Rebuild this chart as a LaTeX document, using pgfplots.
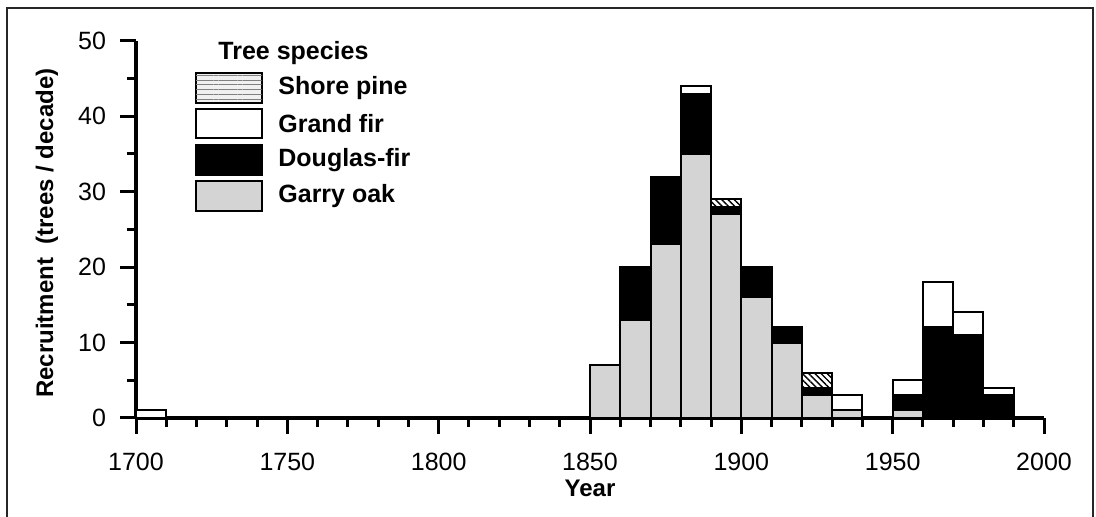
\documentclass[border=0pt]{standalone}
\usepackage{pgfplots}
\pgfplotsset{compat=1.18}
\usepackage{pgfplotstable}
\usepackage{fontspec}
\setmainfont{Liberation Sans}
\usetikzlibrary{patterns.meta}
\pgfplotstableread{
dec garry doug grand shore
1705 0 0 1 0
1855 7 0 0 0
1865 13 7 0 0
1875 23 9 0 0
1885 35 8 1 0
1895 27 1 0 1
1905 16 4 0 0
1915 10 2 0 0
1925 3 1 0 2
1935 1 0 2 0
1955 1 2 2 0
1965 0 12 6 0
1975 0 11 3 0
1985 0 3 1 0
}\datatab
\definecolor{oak}{gray}{0.83}
\begin{document}
\begin{tikzpicture}[x=0.5pt,y=0.5pt]
\useasboundingbox (0,0) rectangle (1096,517);
\draw[line width=1pt, black!85] (7,-20) -- (7,509) -- (1093,509) -- (1093,-20);
\begin{axis}[
  at={(68pt,49.5pt)}, anchor=south west,
  scale only axis, width=454pt, height=188.65pt,
  xmin=1700, xmax=2000, ymin=0, ymax=50,
  axis x line=bottom, axis y line=left,
  axis line style={-, line width=1.6pt},
  xtick={1700,1750,...,2000}, minor x tick num=4,
  ytick={0,10,...,50}, minor y tick num=1,
  tick align=outside,
  major tick length=8pt, minor tick length=4.5pt,
  every tick/.style={black, line width=1.5pt},
  /pgf/number format/assume math mode=true,
  /pgf/number format/1000 sep={},
  ticklabel style={font=\fontsize{12.5}{14}\selectfont},
  xticklabel style={yshift=-6pt},
  yticklabel style={xshift=-3.5pt},
  xlabel={\textbf{Year}},
  ylabel={\textbf{Recruitment\ \ (trees / decade)}},
  label style={font=\fontsize{12}{14}\selectfont},
  xlabel style={at={(axis description cs:0.5,-0.186)}, anchor=center},
  ylabel style={at={(axis description cs:-0.098,0.49)}, anchor=center},
  ybar stacked, bar width=10, bar shift=0pt,
  clip=false,
]
\addplot[draw=black, line width=1pt, fill=oak] table[x=dec,y=garry]{\datatab};
\addplot[draw=black, line width=1pt, fill=black] table[x=dec,y=doug]{\datatab};
\addplot[draw=black, line width=1pt, fill=white] table[x=dec,y=grand]{\datatab};
\addplot[draw=black, line width=1pt, pattern={Lines[angle=-45,distance=2.2pt,line width=0.7pt]}] table[x=dec,y=shore]{\datatab};
\end{axis}
% legend
\node[anchor=west, inner sep=0pt, font=\fontsize{12.5}{14}\selectfont\bfseries] at (218,464) {Tree species};
\draw[line width=1.1pt, fill=gray!12, postaction={pattern={Lines[angle=0,distance=2.4pt,line width=0.5pt]}, pattern color=gray}] (196,414) rectangle (262,444);
\draw[line width=1.1pt, fill=white] (196,379) rectangle (262,408);
\draw[line width=1.1pt, fill=black] (196,342) rectangle (262,372);
\draw[line width=1.1pt, fill=oak] (196,306) rectangle (262,336);
\begin{scope}[every node/.style={anchor=west, inner sep=0pt, font=\fontsize{12.5}{14}\selectfont\bfseries}]
\node at (278,429) {Shore pine};
\node at (278,393.5) {Grand fir};
\node at (278,357) {Douglas-fir};
\node at (278,321) {Garry oak};
\end{scope}
\end{tikzpicture}
\end{document}
